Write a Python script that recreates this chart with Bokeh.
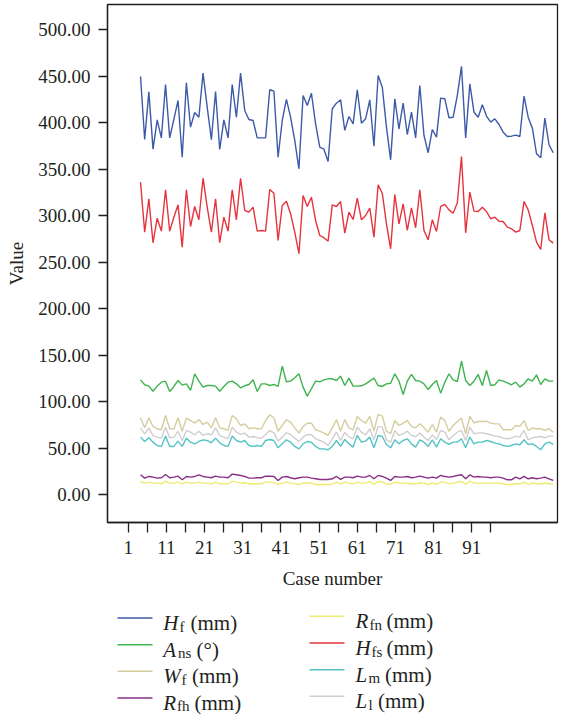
from bokeh.plotting import figure
from bokeh.layouts import column
from bokeh.models import Range1d, LinearAxis, FixedTicker, PrintfTickFormatter, Label
from bokeh.embed import file_html
from bokeh.resources import INLINE

cases = list(range(1, 101))

Hf = [450, 382.3, 433.5, 371.8, 403.4, 384, 441.4, 384, 403.8, 424.2,
      363.2, 443.2, 395.5, 411.3, 406.2, 453.6, 417, 382, 433.9, 371.5,
      403.4, 384, 441.4, 406.2, 453.6, 413.4, 403.8, 402.7, 384, 384,
      384, 435.7, 434.2, 363.2, 402.7, 425.3, 406.2, 381.2, 350.7, 429.6,
      418.8, 432, 399, 374, 371.8, 358.6, 415.3, 421.3, 424.9, 392,
      407, 399, 435.7, 399.8, 404.5, 424.9, 375, 451, 438.5, 395.5,
      360.4, 426, 393.7, 421.3, 387.6, 411.6, 384, 440.3, 386.6, 368,
      393, 384.8, 426.7, 426, 405.6, 406.2, 429.6, 460.8, 384, 442.1,
      411.6, 406.2, 419.5, 407.4, 400.9, 404.5, 398.4, 390.1, 385.5, 385.8,
      386.9, 385.5, 428.9, 406.2, 394.4, 366.9, 362.6, 405.2, 376.6, 368]

Hfs = [336.4, 282.6, 318.5, 271.2, 297.6, 283.7, 328.2, 283.7, 298.7, 312,
       266.5, 328.2, 288.7, 310.2, 295.9, 340.6, 309.5, 282.6, 318.5, 271.2,
       298.7, 283.7, 328.2, 295.9, 340.6, 305.9, 304.1, 309.5, 283.7, 284.4,
       283.7, 328.5, 324.5, 273.7, 311.3, 315.9, 302.4, 282.6, 259.4, 322,
       310.2, 320.2, 295.2, 279, 276.6, 272.9, 312, 310.2, 315.6, 281.5,
       304.1, 296.2, 319.2, 295.9, 300.5, 308.4, 277.2, 333.5, 324.5, 291.6,
       264.7, 323.1, 291.6, 313.1, 284.4, 308.8, 287.3, 328.2, 284.4, 274.4,
       295.9, 283.3, 310.2, 312.4, 306.6, 303, 314.2, 364, 281.9, 325.6,
       305.2, 304.8, 309.5, 304.8, 297, 298.7, 294.4, 294.1, 288, 286.2,
       282.6, 284.4, 315.6, 306.6, 289.8, 271.8, 264, 303.4, 274.4, 270.8]

Ans = [123.8, 118.5, 117, 111.6, 117, 121.3, 122.4, 111.3, 116.7, 123.1,
       118.1, 119.5, 112.4, 130.3, 122.4, 116, 117.7, 117.7, 117, 111.6,
       116.7, 121.3, 122.4, 119.5, 115.2, 117.4, 118.8, 123.8, 111.3, 119.5,
       119.5, 117.7, 118.8, 116.7, 138.5, 121.7, 122.4, 126, 130.3, 116,
       106.3, 114.2, 122.4, 121.7, 123.8, 124.9, 124.9, 123.1, 127.8, 117.7,
       125.6, 117, 117, 117.4, 119.5, 122.4, 125.6, 117.7, 116.7, 119.5,
       120.2, 130.3, 122.4, 108.1, 122.4, 129.6, 123.1, 122.4, 119.5, 113.4,
       118.8, 123.1, 109.5, 121.3, 130.3, 123.8, 122, 143.9, 123.1, 117.7,
       122.4, 129.6, 117.7, 133.9, 117.7, 118.5, 123.8, 122.4, 120.6, 118.5,
       121.3, 116, 119.5, 124.9, 122.4, 129.2, 118.8, 124.9, 122.4, 122.4]

Wf = [83, 72.2, 83, 73.7, 71.2, 70.1, 85.5, 71.2, 71.2, 83,
      68.6, 82.6, 80.1, 77.2, 81.2, 75.8, 78.3, 72.2, 83, 72.2,
      71.2, 69.4, 85.5, 81.9, 74.7, 76.5, 71.2, 72.2, 71.2, 71.2,
      80.1, 86.2, 83, 68.6, 74.7, 80.9, 78.3, 72.2, 66.5, 73.7,
      77.2, 77.2, 70.1, 68.6, 66.5, 64, 72.2, 80.9, 68.6, 81.2,
      72.2, 70.1, 84.4, 80.1, 77.2, 84.4, 68.6, 86.6, 84.8, 68.6,
      65.8, 80.1, 74.7, 77.2, 80.1, 73.7, 72.2, 76.5, 72.2, 67.5,
      75.8, 67.5, 83.7, 80.1, 68.3, 74.7, 79, 82.6, 65.8, 84.4,
      77.6, 79, 79, 79.4, 77.2, 76.5, 76.5, 70.1, 70.1, 70.1,
      74.7, 73.7, 80.1, 69.4, 71.9, 71.2, 71.2, 69.4, 71.2, 67.5]

Ll = [72.2, 65.8, 71.9, 64, 62.2, 61.1, 72.9, 61.5, 62.2, 68.6,
      58.6, 69.4, 67.5, 64.7, 68.6, 64, 65.8, 64.7, 72.2, 64,
      62.2, 60.4, 72.9, 67.5, 65.1, 66.5, 62.2, 62.9, 61.5, 61.1,
      65.1, 69.4, 66.8, 57.9, 62.2, 66.8, 65.1, 61.1, 57.5, 62.2,
      65.1, 64.7, 60.4, 58.6, 56.8, 53.2, 60.4, 67.5, 58.6, 67.5,
      62.2, 60.4, 72.9, 67.5, 64.7, 71.2, 59.3, 73.7, 72.9, 59.3,
      56.8, 69.4, 64, 65.8, 68.6, 64, 62.9, 66.5, 62.2, 58.6,
      64.7, 59.7, 69.4, 67.5, 59.3, 64, 67.5, 69.4, 58.6, 72.9,
      65.8, 66.8, 66.8, 65.8, 64.7, 63.3, 62.9, 61.1, 60.4, 61.1,
      63.3, 62.2, 69.4, 59.3, 61.5, 62.2, 62.9, 61.5, 63.3, 63.3]

Lm = [62.2, 57.5, 61.5, 56.8, 53.2, 52.2, 63.3, 52.2, 52.2, 57.9,
      52.2, 61.1, 56.8, 55, 57.5, 59.3, 58.6, 56.1, 61.1, 56.1,
      53.2, 52.2, 63.3, 58.6, 56.8, 58.6, 53.2, 52.2, 53.2, 52.2,
      58.6, 59.7, 58.6, 50.7, 55, 59.3, 56.8, 52.2, 49.6, 55,
      57.5, 56.8, 52.2, 49.6, 49.6, 48.6, 52.2, 58.6, 52.2, 59.7,
      55, 51.5, 64, 56.8, 57.9, 62.2, 50.7, 64, 62.9, 54.3,
      50.7, 59.3, 55, 58.6, 60.4, 55, 51.5, 59.3, 56.8, 52.2,
      59.3, 51.5, 60.4, 56.8, 54.3, 56.8, 56.8, 60.4, 50.7, 62.2,
      55, 56.8, 56.8, 58.6, 57.5, 55.7, 55, 53.2, 52.2, 53.2,
      55, 54, 59.3, 54.3, 55, 52.2, 48.6, 55, 56.8, 54.3]

Rfh = [21.7, 18.1, 19.9, 19.2, 18.1, 18.5, 22, 18.5, 19.2, 20.2,
       16.3, 19.9, 19.2, 19.9, 21.7, 19.9, 19.2, 18.5, 20.2, 19.2,
       19.2, 18.5, 22.4, 21.7, 21, 19.9, 18.1, 18.1, 18.5, 18.5,
       20.2, 20.2, 19.9, 15.6, 19.2, 19.9, 18.5, 17.4, 18.5, 19.2,
       19.2, 18.1, 17.4, 16.7, 16.7, 16.7, 17.4, 19.9, 16.7, 19.2,
       19.2, 18.5, 20.2, 19.2, 19.2, 21, 17.4, 21, 19.9, 18.1,
       15.6, 19.9, 19.2, 19.2, 19.9, 18.5, 19.2, 20.2, 19.2, 18.1,
       19.2, 18.1, 21, 19.9, 19.2, 19.9, 21, 21.7, 17.4, 21.7,
       19.2, 19.9, 19.2, 19.2, 18.5, 19.2, 19.2, 18.1, 16.3, 16.3,
       19.2, 17.4, 19.9, 17.4, 18.5, 17.4, 18.1, 19.2, 17.4, 15.6]

Rfn = [14.5, 12.7, 13.8, 12.7, 12.7, 12, 14.9, 12.7, 12.7, 13.8,
       12, 13.8, 12.7, 12.7, 13.8, 12.7, 12.7, 12, 13.8, 12,
       12, 12, 14.9, 13.8, 12.7, 13.1, 12, 12, 12, 12,
       13.8, 13.8, 13.1, 11.3, 12.7, 13.8, 12.7, 12, 11.3, 12.7,
       13.1, 12.7, 11.3, 11.3, 11.3, 11, 12, 13.8, 12, 13.8,
       12.7, 12, 13.8, 12.7, 12.7, 14.5, 11.3, 14.5, 13.8, 12,
       11.3, 13.8, 12.7, 12.7, 12.7, 12, 12, 13.1, 12.7, 11.3,
       12.7, 11.3, 13.8, 13.8, 12, 12.7, 13.8, 14.5, 11.3, 14.9,
       12.7, 12.7, 12.7, 12.7, 12.7, 12.7, 12.7, 12, 11.3, 11.3,
       12, 12, 13.8, 11.3, 12.7, 12, 12, 12.7, 12, 11.3]

y_ticks = [0, 50, 100, 150, 200, 250, 300, 350, 400, 450, 500]
x_ticks = [1, 11, 21, 31, 41, 51, 61, 71, 81, 91]
x_minor = [6, 16, 26, 36, 46, 56, 66, 76, 86, 96]

# series: (values, colour, main letter, subscript, unit)
series = [
    (Hf, "#3d5aa8", "H", "f", "(mm)"),
    (Ans, "#3fb34f", "A", "ns", "(°)"),
    (Wf, "#d5cd9e", "W", "f", "(mm)"),
    (Rfh, "#8a2f86", "R", "fh", "(mm)"),
    (Rfn, "#f1ea72", "R", "fn", "(mm)"),
    (Hfs, "#e5343d", "H", "fs", "(mm)"),
    (Lm, "#55c3c6", "L", "m", "(mm)"),
    (Ll, "#cfcfcf", "L", "l", "(mm)"),
]

FONT = "Liberation Serif"
INK = "#231f20"

p = figure(width=572, height=600, output_backend="svg", toolbar_location=None,
           x_range=Range1d(-6.92, 101.03), y_range=Range1d(-29.6, 527.4),
           x_axis_location=None, min_border_left=107, min_border_right=15,
           min_border_top=4, min_border_bottom=78)
p.grid.visible = False
p.outline_line_color = INK
p.outline_line_width = 1.3
p.background_fill_color = "white"
p.border_fill_color = "white"

draw_order = [4, 7, 6, 2, 3, 1, 5, 0]
for i in draw_order:
    vals, col = series[i][0], series[i][1]
    p.line(cases, vals, line_color=col, line_width=1.4)

# y axis
ya = p.yaxis[0]
ya.ticker = FixedTicker(ticks=y_ticks)
ya.formatter = PrintfTickFormatter(format="%.2f")
ya.minor_tick_line_color = None
ya.major_tick_in = 0
ya.major_tick_out = 9
ya.major_tick_line_color = INK
ya.major_tick_line_width = 1.3
ya.axis_line_color = INK
ya.axis_line_width = 1.3
ya.major_label_standoff = 8
ya.major_label_text_font = FONT
ya.major_label_text_font_size = "19px"
ya.major_label_text_color = INK
ya.axis_label = "Value"
ya.axis_label_text_font = FONT
ya.axis_label_text_font_size = "19px"
ya.axis_label_text_font_style = "normal"
ya.axis_label_text_color = INK
ya.axis_label_standoff = 8

# x axis on its own tick range
p.extra_x_ranges = {"ticks": Range1d(-4.42, 113.44)}
xa = LinearAxis(x_range_name="ticks",
                ticker=FixedTicker(ticks=x_ticks, minor_ticks=x_minor))
xa.major_tick_in = 0
xa.major_tick_out = 10
xa.minor_tick_in = 0
xa.minor_tick_out = 10
xa.major_tick_line_color = INK
xa.minor_tick_line_color = INK
xa.major_tick_line_width = 1.3
xa.minor_tick_line_width = 1.3
xa.axis_line_color = INK
xa.axis_line_width = 1.3
xa.major_label_standoff = 8
xa.major_label_text_font = FONT
xa.major_label_text_font_size = "19px"
xa.major_label_text_color = INK
xa.axis_label = "Case number"
xa.axis_label_text_font = FONT
xa.axis_label_text_font_size = "19px"
xa.axis_label_text_font_style = "normal"
xa.axis_label_text_color = INK
xa.axis_label_standoff = 11
p.add_layout(xa, "below")

# legend panel: its frame is aligned with the main frame (x 107..557),
# so its data coordinates are page pixel coordinates
leg = figure(width=572, height=114, output_backend="svg", toolbar_location=None,
             x_range=Range1d(107, 557), y_range=Range1d(714, 600),
             x_axis_location=None, y_axis_location=None,
             min_border_left=107, min_border_right=15,
             min_border_top=0, min_border_bottom=0)
leg.grid.visible = False
leg.outline_line_color = None
leg.background_fill_color = "white"
leg.border_fill_color = "white"

col_line_x = [(117, 152), (309, 344)]
col_text_x = [162.7, 355]
row_line_y = [[617.5, 644.2, 670.8, 697.5], [615.8, 642.5, 669.2, 695.8]]
row_base_y = [[622.5, 649.2, 675.8, 702.3], [620.8, 647.5, 674.2, 700.6]]
sub_x = [179, 177.5, 181, 176.5, 369, 371, 368, 368]
unit_x = [190, 196, 191.5, 194, 386, 386, 384.5, 377.5]

for k, (vals, col, main, sub, unit) in enumerate(series):
    c, r = k // 4, k % 4
    x0, x1 = col_line_x[c]
    ly = row_line_y[c][r]
    leg.line([x0, x1], [ly, ly], line_color=col, line_width=1.6)
    by = row_base_y[c][r]
    leg.add_layout(Label(x=col_text_x[c], y=by, text=main, text_font=FONT,
                         text_font_style="italic", text_font_size="21px",
                         text_color=INK, text_baseline="alphabetic"))
    leg.add_layout(Label(x=sub_x[k], y=by + 3.5, text=sub, text_font=FONT,
                         text_font_size="15px", text_color=INK,
                         text_baseline="alphabetic"))
    leg.add_layout(Label(x=unit_x[k], y=by, text=unit, text_font=FONT,
                         text_font_size="21px", text_color=INK,
                         text_baseline="alphabetic"))

layout = column(p, leg, spacing=0)
open("out.html", "w").write(file_html(layout, INLINE))
